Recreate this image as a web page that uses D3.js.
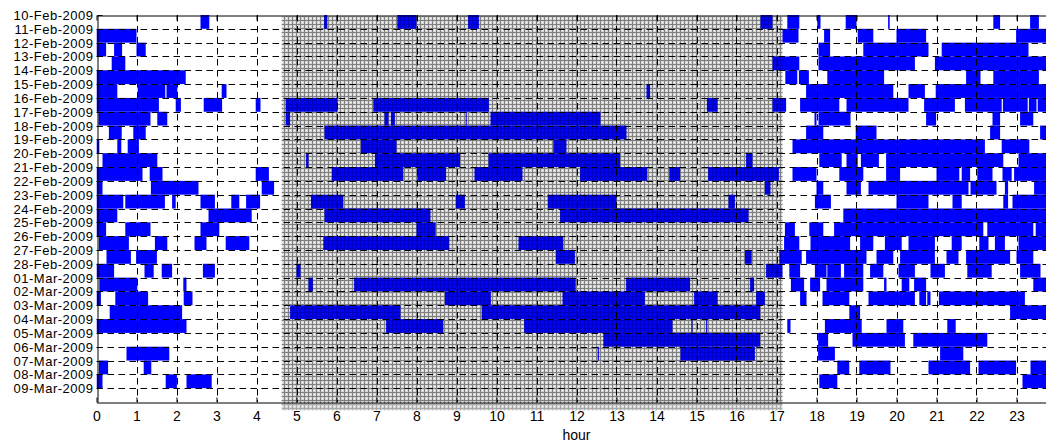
<!DOCTYPE html>
<html><head><meta charset="utf-8">
<script src="https://cdn.jsdelivr.net/npm/d3@7"></script>
<style>
body{margin:0;background:#fff}
svg text{font-family:"Liberation Sans",Arial,sans-serif;fill:#000}
</style>
</head><body>
<svg id="chart" width="1046" height="443"></svg>
<script>
// ---------- data ----------
const dates = ["10-Feb-2009","11-Feb-2009","12-Feb-2009","13-Feb-2009","14-Feb-2009","15-Feb-2009","16-Feb-2009","17-Feb-2009","18-Feb-2009","19-Feb-2009","20-Feb-2009","21-Feb-2009","22-Feb-2009","23-Feb-2009","24-Feb-2009","25-Feb-2009","26-Feb-2009","27-Feb-2009","28-Feb-2009","01-Mar-2009","02-Mar-2009","03-Mar-2009","04-Mar-2009","05-Mar-2009","06-Mar-2009","07-Mar-2009","08-Mar-2009","09-Mar-2009"];
const hourTicks = [0,1,2,3,4,5,6,7,8,9,10,11,12,13,14,15,16,17,18,19,20,21,22,23];
const shadeHours = [4.63, 17.15];
const shadeRows = [0.12, 28.6];

// active intervals [start hour, end hour] per day
const feb10 = [[2.6,2.82],[5.69,5.77],[7.52,8.0],[9.29,9.56],[16.6,16.9],[17.27,17.57],[18.02,18.1],[18.73,19.0],[19.79,19.83],[22.42,22.59],[23.34,23.56]];
const feb11 = [[0,1.0],[17.15,17.55],[18.19,18.34],[19.03,19.42],[20.0,20.74],[22.99,24]];
const feb12 = [[0,0.24],[0.44,0.64],[1.0,1.23],[18.05,18.34],[19.17,20.8],[21.13,23.3]];
const feb13 = [[0.38,0.72],[16.9,17.57],[18.05,20.46],[20.96,24]];
const feb14 = [[0,2.23],[17.22,17.52],[17.56,17.81],[18.27,19.69],[21.74,22.1],[22.42,23.56]];
const feb15 = [[0,0.52],[1.03,1.72],[1.75,2.02],[3.13,3.25],[13.75,13.84],[17.74,19.92],[20.3,20.71],[20.98,24]];
const feb16 = [[0,1.56],[1.98,2.11],[2.68,3.14],[3.98,4.1],[4.73,6.03],[6.92,9.81],[15.26,15.53],[16.9,17.24],[17.59,18.57],[18.75,20.3],[20.69,21.46],[21.71,22.63],[22.66,23.28],[23.31,23.5],[23.53,24]];
const feb17 = [[0.05,1.35],[1.52,1.77],[4.73,4.84],[7.2,7.3],[7.36,7.46],[9.23,9.25],[9.85,12.6],[17.95,18.0],[18.05,18.85],[20.74,20.99],[22.4,22.59],[23.09,23.42]];
const feb18 = [[0.31,0.63],[0.92,1.23],[5.7,13.25],[17.74,18.17],[18.98,19.5],[22.34,22.59],[23.59,24]];
const feb19 = [[0,0.07],[0.52,0.62],[0.78,1.06],[6.61,7.5],[11.42,11.75],[17.4,22.21],[22.63,23.32]];
const feb20 = [[0.15,1.52],[5.24,5.3],[6.96,9.09],[9.8,13.09],[16.24,16.4],[18.07,18.63],[18.75,19.03],[19.11,19.56],[19.74,22.67],[23.05,24]];
const feb21 = [[0,1.15],[1.33,1.65],[3.98,4.31],[5.88,7.67],[8.02,8.74],[9.45,10.65],[12.09,13.77],[14.32,14.59],[15.29,17.06],[17.4,18.0],[18.57,19.17],[19.74,20.09],[21.0,21.57],[21.63,21.84],[22.02,22.4],[22.65,22.88],[22.94,24]];
const feb22 = [[0,0.15],[1.36,2.55],[4.13,4.44],[16.71,16.85],[18.0,18.17],[18.75,19.11],[19.3,21.8],[21.85,22.5],[22.71,22.79],[23.44,24]];
const feb23 = [[0,0.67],[0.72,1.71],[1.89,1.98],[2.6,2.96],[3.37,3.57],[3.74,4.09],[5.36,6.17],[8.98,9.21],[11.28,13.0],[15.8,15.96],[17.96,18.36],[20.0,20.8],[21.4,21.63],[22.67,22.79],[22.9,24]];
const feb24 = [[0,0.52],[2.8,3.88],[5.7,8.35],[11.59,16.3],[18.67,24]];
const feb25 = [[0,0.24],[0.72,1.35],[2.6,3.07],[8.0,8.48],[17.21,17.46],[17.82,18.17],[18.44,22.17],[22.27,23.42],[23.48,24]];
const feb26 = [[0.06,0.81],[1.46,1.77],[2.45,2.75],[3.23,3.82],[5.67,8.82],[10.55,11.67],[17.19,17.57],[17.85,18.84],[19.09,19.42],[19.71,20.13],[20.3,20.96],[21.38,21.63],[22.07,22.3],[22.46,22.71],[23.05,24]];
const feb27 = [[0.25,0.86],[0.99,1.51],[11.48,11.96],[16.21,16.38],[17.07,17.63],[17.74,19.25],[19.5,19.92],[20.09,20.96],[21.25,21.55],[21.74,22.84],[23.0,23.42]];
const feb28 = [[0,0.44],[1.2,1.43],[1.63,1.89],[2.66,2.96],[5.0,5.1],[16.74,17.15],[17.32,17.59],[17.96,18.25],[18.27,18.61],[18.69,19.17],[19.34,19.67],[20.05,20.46],[20.85,21.21],[21.77,22.38],[23.09,23.6]];
const mar01 = [[0.07,1.02],[2.17,2.25],[5.3,5.41],[6.44,11.98],[13.24,14.84],[16.34,16.44],[17.36,17.69],[17.84,18.09],[18.25,19.17],[19.69,19.75],[20.13,20.32],[20.44,20.74],[23.42,24]];
const mar02 = [[0,0.11],[0.47,1.29],[2.18,2.4],[8.71,9.86],[11.65,13.71],[14.94,15.53],[16.49,16.71],[17.59,17.75],[18.15,18.82],[19.3,20.46],[20.57,20.74],[20.77,20.85],[21.06,23.21]];
const mar03 = [[0.33,2.14],[4.84,7.6],[9.63,16.59],[18.82,19.09],[22.84,24]];
const mar04 = [[0,2.25],[7.24,8.67],[10.69,14.4],[14.87,14.9],[15.24,15.27],[17.27,17.35],[18.21,19.13],[19.75,20.17],[21.27,21.48]];
const mar05 = [[12.67,16.59],[18.04,18.29],[18.9,20.21],[20.42,22.27]];
const mar06 = [[0.75,1.82],[12.53,12.56],[14.6,16.46],[18.04,18.46],[21.09,21.67]];
const mar07 = [[0.06,0.29],[1.18,1.37],[18.52,18.82],[19.07,19.85],[20.8,21.84],[22.05,22.99],[23.35,24]];
const mar08 = [[0,0.15],[1.73,2.01],[2.25,2.88],[18.07,18.52],[23.15,24]];
const mar09 = [];

const dayIntervals = [feb10,feb11,feb12,feb13,feb14,feb15,feb16,feb17,feb18,feb19,feb20,feb21,feb22,feb23,feb24,feb25,feb26,feb27,feb28,mar01,mar02,mar03,mar04,mar05,mar06,mar07,mar08,mar09];

// ---------- layout ----------
const svg = d3.select("#chart");
const x = d3.scaleLinear().domain([0,24]).range([96.5,1056.5]);
const y = d3.scaleLinear().domain([0,dates.length]).range([15,402]);

const defs = svg.append("defs");
const pat = defs.append("pattern").attr("id","shade").attr("patternUnits","userSpaceOnUse")
  .attr("width",4).attr("height",4);
pat.append("rect").attr("width",4).attr("height",4).attr("fill","#d6d6d6");
pat.append("rect").attr("x",0).attr("y",0).attr("width",4).attr("height",1).attr("fill","#a9a9a9");
pat.append("rect").attr("x",0).attr("y",0).attr("width",1).attr("height",4).attr("fill","#a9a9a9");
pat.append("rect").attr("x",2).attr("y",2).attr("width",1).attr("height",1).attr("fill","#ffffff");

const over = defs.append("pattern").attr("id","shadeOver").attr("patternUnits","userSpaceOnUse")
  .attr("width",4).attr("height",4);
over.append("rect").attr("x",0).attr("y",0).attr("width",4).attr("height",1).attr("fill","#000").attr("fill-opacity",0.25);
over.append("rect").attr("x",0).attr("y",1).attr("width",1).attr("height",3).attr("fill","#000").attr("fill-opacity",0.25);

const clip = defs.append("clipPath").attr("id","plotclip");
clip.append("rect").attr("x",x(0)).attr("y",y(0)).attr("width",x(24)-x(0)).attr("height",y(dates.length)-y(0));

// shaded daytime region (extends slightly below the axes)
svg.append("rect")
  .attr("x",x(shadeHours[0])).attr("width",x(shadeHours[1])-x(shadeHours[0]))
  .attr("y",y(shadeRows[0])).attr("height",y(shadeRows[1])-y(shadeRows[0]))
  .attr("fill","url(#shade)");

// activity bars
const rows = svg.append("g").attr("clip-path","url(#plotclip)");
dayIntervals.forEach((iv,i)=>{
  rows.selectAll(null).data(iv).enter().append("rect")
    .attr("x",d=>x(d[0])).attr("width",d=>Math.max(1,x(d[1])-x(d[0])))
    .attr("y",y(i)).attr("height",y(i+1)-y(i))
    .attr("fill","#0000ff");
});

// pattern overlay on bars inside shaded region
svg.append("rect")
  .attr("x",x(shadeHours[0])).attr("width",x(shadeHours[1])-x(shadeHours[0]))
  .attr("y",y(shadeRows[0])).attr("height",y(dates.length)-y(shadeRows[0]))
  .attr("fill","url(#shadeOver)");

// grid lines
const grid = svg.append("g").attr("stroke","#000").attr("stroke-width",1).attr("stroke-dasharray","6.5,4.5");
grid.selectAll(null).data(hourTicks.slice(1)).enter().append("line")
  .attr("x1",d=>Math.round(x(d))+0.5).attr("x2",d=>Math.round(x(d))+0.5)
  .attr("y1",y(0)).attr("y2",y(dates.length));
grid.selectAll(null).data(d3.range(1,dates.length)).enter().append("line")
  .attr("x1",x(0)).attr("x2",x(24))
  .attr("y1",d=>Math.round(y(d))+0.5).attr("y2",d=>Math.round(y(d))+0.5);

// axes
const yAxis = d3.axisLeft(y).tickValues(d3.range(dates.length)).tickFormat(i=>dates[i])
  .tickSize(-5).tickPadding(4).tickSizeOuter(0);
const gy = svg.append("g").attr("transform",`translate(${Math.round(x(0))+0.5},0)`).call(yAxis);
const xAxis = d3.axisBottom(x).tickValues(hourTicks).tickSize(-5).tickPadding(8.5).tickSizeOuter(0);
const gx = svg.append("g").attr("transform",`translate(0,${Math.round(y(dates.length))+0.5})`).call(xAxis);
const xTop = d3.axisTop(x).tickValues(hourTicks).tickSize(-5).tickFormat("").tickSizeOuter(0);
const gt = svg.append("g").attr("transform",`translate(0,${Math.round(y(0))+0.5})`).call(xTop);
[gx,gy,gt].forEach(g=>{
  g.selectAll("line,path").attr("stroke","#000");
});
gx.selectAll("text").style("font-size","14px").attr("fill","#000");
gy.selectAll("text").style("font-size","13px").style("letter-spacing","0.5px").attr("fill","#000");
gy.selectAll(".tick").attr("transform",d=>`translate(0,${Math.round(y(d))+0.5})`);

svg.append("text").attr("x",(x(0)+x(24))/2).attr("y",440).attr("text-anchor","middle")
  .style("font-size","14px").text("hour");
</script>
</body></html>
